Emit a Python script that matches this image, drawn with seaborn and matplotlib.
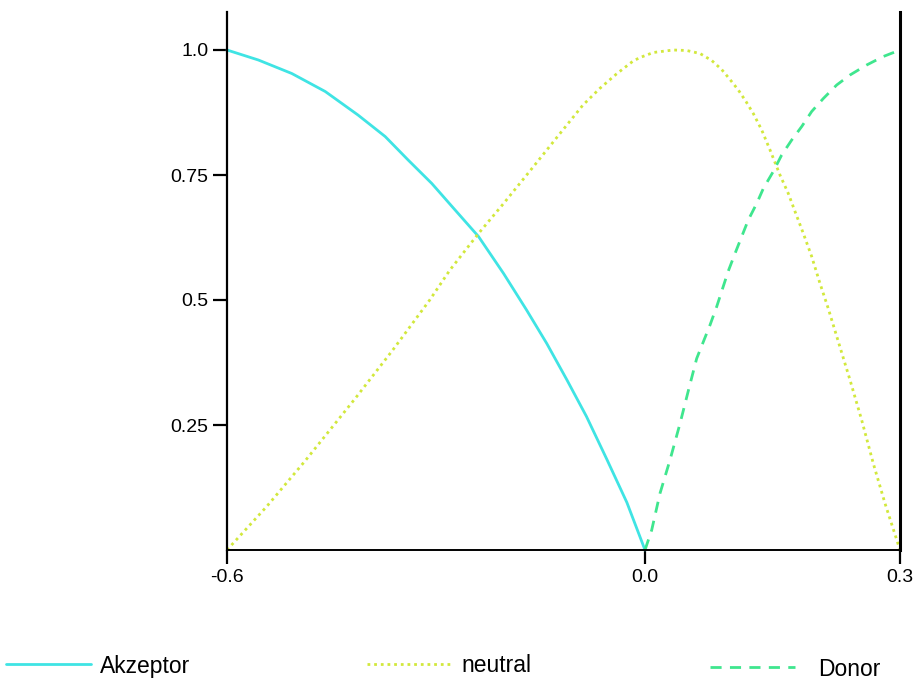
import numpy as np
import pandas as pd
import matplotlib
matplotlib.use("Agg")
import matplotlib.pyplot as plt
import seaborn as sns

# ---- data ----
akz_x = [-0.6, -0.555, -0.507, -0.459, -0.412, -0.373, -0.340, -0.306, -0.277, -0.239,
         -0.203, -0.170, -0.141, -0.112, -0.084, -0.055, -0.026, 0.0]
akz_y = [1.0, 0.980, 0.953, 0.917, 0.870, 0.827, 0.780, 0.733, 0.687, 0.627,
         0.553, 0.480, 0.413, 0.340, 0.267, 0.182, 0.095, 0.0]

neu_x = [-0.6, -0.543, -0.488, -0.416, -0.362, -0.309, -0.280, -0.239, -0.203, -0.160,
         -0.122, -0.089, -0.065, -0.041, -0.017, -0.007, 0.0098, 0.0333, 0.0491, 0.0647,
         0.0785, 0.0902, 0.100, 0.1098, 0.1188, 0.1274, 0.1373, 0.1471, 0.1588, 0.1686,
         0.1765, 0.1863, 0.1961, 0.2059, 0.2156, 0.2274, 0.2412, 0.2549, 0.2686, 0.2824,
         0.3]
neu_y = [0.0, 0.087, 0.178, 0.303, 0.400, 0.500, 0.560, 0.633, 0.693, 0.767,
         0.833, 0.890, 0.923, 0.952, 0.978, 0.985, 0.995, 1.0, 0.999, 0.993,
         0.979, 0.961, 0.941, 0.920, 0.897, 0.873, 0.840, 0.800, 0.750, 0.713,
         0.677, 0.633, 0.587, 0.533, 0.483, 0.417, 0.340, 0.260, 0.173, 0.093,
         0.0]

don_x = [0.0, 0.0079, 0.0176, 0.0294, 0.0412, 0.0509, 0.0608, 0.0765, 0.0844, 0.098,
         0.1059, 0.1138, 0.1215, 0.1314, 0.1392, 0.1509, 0.1608, 0.1726, 0.1844, 0.1961,
         0.2098, 0.2255, 0.2412, 0.2608, 0.2804, 0.3]
don_y = [0.0, 0.040, 0.113, 0.180, 0.253, 0.318, 0.383, 0.450, 0.487, 0.558,
         0.593, 0.627, 0.660, 0.693, 0.723, 0.757, 0.790, 0.820, 0.847, 0.877,
         0.903, 0.930, 0.950, 0.970, 0.987, 1.0]

series_names = ["Akzeptor", "neutral", "Donor"]
x_ticks = [-0.6, 0.0, 0.3]
x_tick_labels = ["-0.6", "0.0", "0.3"]
y_ticks = [0.25, 0.5, 0.75, 1.0]
y_tick_labels = ["0.25", "0.5", "0.75", "1.0"]

df = pd.concat([
    pd.DataFrame({"x": akz_x, "y": akz_y, "series": series_names[0]}),
    pd.DataFrame({"x": neu_x, "y": neu_y, "series": series_names[1]}),
    pd.DataFrame({"x": don_x, "y": don_y, "series": series_names[2]}),
], ignore_index=True)

sns.set_theme(style="white")
plt.rcParams["font.family"] = ["Liberation Sans", "DejaVu Sans"]

fig = plt.figure(figsize=(9.15, 6.82), dpi=100)
ax = fig.add_axes([227 / 915, (682 - 550) / 682, 673 / 915, 538 / 682])

palette = {"Akzeptor": "#3fe4e4", "neutral": "#d2e83c", "Donor": "#3fe68e"}
dashes = {"Akzeptor": "", "neutral": (1, 1.4), "Donor": (4, 3.0)}
sns.lineplot(data=df, x="x", y="y", hue="series", style="series",
             palette=palette, dashes=dashes, estimator=None, sort=False,
             linewidth=2.0, ax=ax, hue_order=series_names, style_order=series_names)
for ln in ax.get_lines():
    ln.set_clip_on(False)
    ln.set_solid_joinstyle("round")


def fwd(v):
    v = np.asarray(v, dtype=float)
    return np.where(v <= 0, (v + 0.6) / 0.6 * 418.0, 418.0 + v / 0.3 * 255.0)


def inv(p):
    p = np.asarray(p, dtype=float)
    return np.where(p <= 418.0, p / 418.0 * 0.6 - 0.6, (p - 418.0) / 255.0 * 0.3)


ax.set_xscale("function", functions=(fwd, inv))
ax.set_xlim(-0.6, 0.3)
ax.set_ylim(0, 1.076)
ax.set_xticks(x_ticks)
ax.set_xticklabels(x_tick_labels)
ax.set_yticks(y_ticks)
ax.set_yticklabels(y_tick_labels)
ax.minorticks_off()
ax.set_xlabel("")
ax.set_ylabel("")

for side in ["left", "right", "bottom"]:
    ax.spines[side].set_visible(True)
    ax.spines[side].set_color("#000000")
ax.spines["left"].set_linewidth(1.6)
ax.spines["right"].set_linewidth(2.2)
ax.spines["bottom"].set_linewidth(1.4)
ax.spines["top"].set_visible(False)

ax.tick_params(axis="both", which="major", direction="out", length=10, width=1.6,
               color="#000000", labelsize=14, labelcolor="#000000", pad=3.5,
               left=True, bottom=True, right=False, top=False)

handles, labels = ax.get_legend_handles_labels()
if ax.get_legend() is not None:
    ax.get_legend().remove()
hmap = dict(zip(labels, handles))

leg_pos = {"Akzeptor": (6 / 915, 1 - 666 / 682),
           "neutral": (367 / 915, 1 - 666 / 682),
           "Donor": (710 / 915, 1 - 669 / 682)}
text_pad = {"Akzeptor": 0.4, "neutral": 0.4, "Donor": 1.0}
for name in series_names:
    h = hmap[name]
    fig.legend([h], [name], loc="center left", bbox_to_anchor=leg_pos[name],
               frameon=False, fontsize=16.5, handlelength=3.7,
               handletextpad=text_pad[name],
               borderpad=0, borderaxespad=0, labelcolor="#000000")

fig.savefig("out.png", dpi=100)
